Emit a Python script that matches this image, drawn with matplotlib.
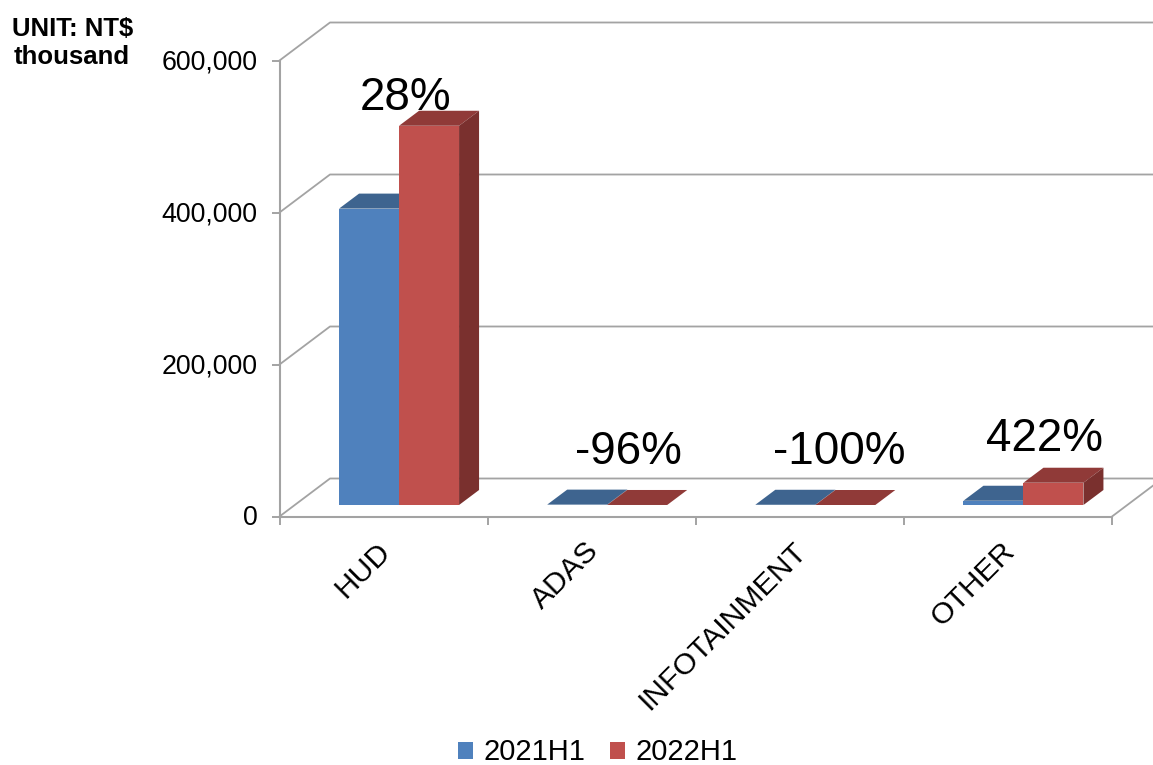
#!/usr/bin/env python3
"""Pseudo-3D clustered column chart: revenue by product line, 2021H1 vs 2022H1."""

import matplotlib
matplotlib.use('Agg')
import matplotlib.pyplot as plt
from matplotlib.ticker import FuncFormatter
from matplotlib.transforms import ScaledTranslation
import numpy as np

plt.rcParams['font.family'] = ['Liberation Sans', 'DejaVu Sans']

categories = ['HUD', 'ADAS', 'INFOTAINMENT', 'OTHER']
series_names = ['2021H1', '2022H1']
values_2021 = [390000, 500, 300, 5600]
values_2022 = [499000, 20, 0, 29300]
growth_labels = ['28%', '-96%', '-100%', '422%']
y_ticks = [0, 200000, 400000, 600000]

W, H = 1153, 765
LEFT, RIGHT, BOTTOM, TOP = 279.5, 1112, 516.5, 60.5
GREY = '#A3A3A3'

fig = plt.figure(figsize=(W / 100, H / 100), dpi=100)
ax = fig.add_axes([LEFT / W, 1 - BOTTOM / H, (RIGHT - LEFT) / W, (BOTTOM - TOP) / H])
ax.set_xlim(0, 4)
ax.set_ylim(0, 600000)
ax.patch.set_visible(False)

# one pixel expressed in data units, used for the oblique depth of the box
px_x = 4 / (RIGHT - LEFT)
px_y = 600000 / (BOTTOM - TOP)
wall_dx, wall_dy = 50.5 * px_x, 38 * px_y
bar_w = 60 * px_x
bar_dx, bar_dy = 20 * px_x, 15 * px_y
base_dx, base_dy = 15.5 * px_x, 11.5 * px_y

# back wall gridlines with the diagonal on the left wall
for v in y_ticks:
    ax.plot([0, wall_dx, 4 + wall_dx], [v, v + wall_dy, v + wall_dy],
            color=GREY, lw=1.3, clip_on=False, zorder=1)
ax.plot([4, 4 + wall_dx], [0, wall_dy], color=GREY, lw=1.3, clip_on=False, zorder=1)


def draw_bars(x, vals, front, top, side, label):
    # front faces via bar, top and side as parallelograms
    bars = ax.bar(x, vals, bar_w, bottom=base_dy, align='edge', color=front,
                  label=label, clip_on=False, zorder=3)
    for xi, v in zip(x, vals):
        y0, y1 = base_dy, base_dy + v
        ax.fill([xi, xi + bar_w, xi + bar_w + bar_dx, xi + bar_dx],
                [y1, y1, y1 + bar_dy, y1 + bar_dy], color=top, lw=0, clip_on=False, zorder=3)
        ax.fill([xi + bar_w, xi + bar_w + bar_dx, xi + bar_w + bar_dx, xi + bar_w],
                [y0, y0 + bar_dy, y1 + bar_dy, y1], color=side, lw=0, clip_on=False, zorder=3)
    return bars


centers = np.arange(len(categories)) + 0.5 + base_dx
draw_bars(centers - bar_w, values_2021, '#4F81BD', '#3E648F', '#345678', series_names[0])
draw_bars(centers, values_2022, '#C0504D', '#903A38', '#7A302E', series_names[1])

# growth labels, nudged from the top of the taller bar
label_offsets = [(6, 16), (21, 41), (24, 41), (21, 32)]
for c, v1, v2, txt, off in zip(centers, values_2021, values_2022, growth_labels, label_offsets):
    ax.annotate(txt, (c, base_dy + max(v1, v2)),
                xytext=(off[0] * 0.72, off[1] * 0.72), textcoords='offset points',
                ha='center', va='baseline', fontsize=33, color='black', zorder=5,
                annotation_clip=False)

for s in ['top', 'right']:
    ax.spines[s].set_visible(False)
for s in ['left', 'bottom']:
    ax.spines[s].set_color(GREY)
    ax.spines[s].set_linewidth(1.5)

ax.set_yticks(y_ticks)
ax.yaxis.set_major_formatter(FuncFormatter(lambda v, _: f'{int(v):,}'))
ax.tick_params(axis='y', length=6, width=1.4, color=GREY, labelsize=19.3, pad=10)
ax.set_xticks(range(5))
ax.set_xticklabels([])
ax.tick_params(axis='x', which='major', length=6, width=1.4, color=GREY)
ax.set_xticks(np.arange(4) + 0.5, minor=True)
ax.set_xticklabels(categories, minor=True, rotation=45, ha='right',
                   rotation_mode='anchor', fontsize=21.7)
ax.tick_params(axis='x', which='minor', length=0, pad=16)

# tick labels sit a touch higher than the tick in the original
nudge = ScaledTranslation(0, 1.3 / 100, fig.dpi_scale_trans)
for lbl in ax.get_yticklabels():
    lbl.set_transform(lbl.get_transform() + nudge)
nudge_x = ScaledTranslation(-7.5 / 100, 2 / 100, fig.dpi_scale_trans)
for lbl in ax.get_xticklabels(minor=True):
    lbl.set_transform(lbl.get_transform() + nudge_x)

fig.text(72.5 / W, 1 - 36 / H, 'UNIT: NT$', ha='center', fontsize=18.5, fontweight='bold')
fig.text(72 / W, 1 - 64 / H, 'thousand', ha='center', fontsize=18.5, fontweight='bold')

fig.legend(loc='center', bbox_to_anchor=(597.5 / W, 1 - 752.5 / H), ncol=2, frameon=False,
           fontsize=21, handlelength=0.52, handleheight=0.52, handletextpad=0.35,
           columnspacing=0.85, borderpad=0)

fig.savefig('out.png', dpi=100, facecolor='white')
